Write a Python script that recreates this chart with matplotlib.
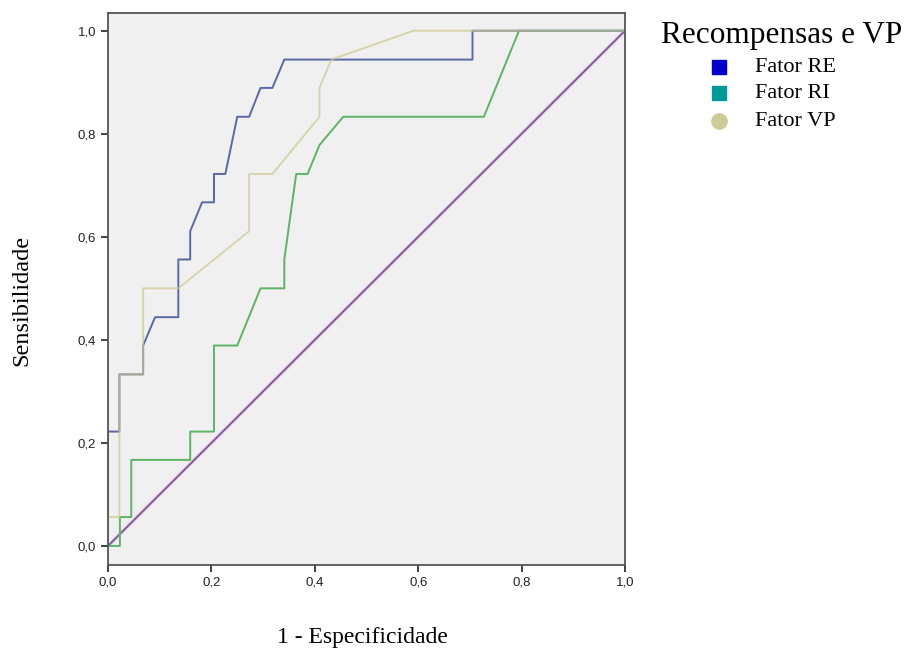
from matplotlib import pyplot as plt
from matplotlib.ticker import FuncFormatter

# ROC curves (1 - especificidade, sensibilidade)
re_x = [0, 0, 0.022, 0.022, 0.068, 0.068, 0.091, 0.136, 0.136, 0.159, 0.159, 0.182, 0.205, 0.205,
        0.227, 0.25, 0.273, 0.295, 0.318, 0.341, 0.705, 0.705, 1.0]
re_y = [0, 0.222, 0.222, 0.333, 0.333, 0.389, 0.444, 0.444, 0.556, 0.556, 0.611, 0.667, 0.667, 0.722,
        0.722, 0.833, 0.833, 0.889, 0.889, 0.944, 0.944, 1.0, 1.0]

ri_x = [0, 0.023, 0.023, 0.045, 0.045, 0.159, 0.159, 0.205, 0.205, 0.25, 0.295, 0.341, 0.341, 0.364,
        0.386, 0.409, 0.455, 0.727, 0.795, 1.0]
ri_y = [0, 0, 0.056, 0.056, 0.167, 0.167, 0.222, 0.222, 0.389, 0.389, 0.5, 0.5, 0.556, 0.722,
        0.722, 0.778, 0.833, 0.833, 1.0, 1.0]

vp_x = [0, 0, 0.022, 0.022, 0.068, 0.068, 0.136, 0.273, 0.273, 0.318, 0.409, 0.409, 0.432, 0.591, 1.0]
vp_y = [0, 0.056, 0.056, 0.333, 0.333, 0.5, 0.5, 0.611, 0.722, 0.722, 0.833, 0.889, 0.944, 1.0, 1.0]

ref_x = [0, 1]
ref_y = [0, 1]

names = ['Fator RE', 'Fator RI', 'Fator VP']
line_colors = ['#5a68aa', '#5cb464', '#cec88c']
legend_colors = ['#0000cc', '#009999', '#cccc99']
legend_markers = ['s', 's', 'o']
ticks = [0, 0.2, 0.4, 0.6, 0.8, 1.0]

fig = plt.figure(figsize=(9.1, 6.57), dpi=100)
ax = fig.add_axes([108/910, 92/657, 517/910, 552.3/657])
ax.set_facecolor('#f0f0f0')

# reference diagonal with light halo
ax.plot(ref_x, ref_y, color='#ecd0f2', lw=3.0, solid_capstyle='butt')
ax.plot(ref_x, ref_y, color='#7a5a8c', lw=1.3)

ax.plot(ri_x, ri_y, color=line_colors[1], lw=1.4)
ax.plot(re_x, re_y, color=line_colors[0], lw=1.4)
ax.plot(vp_x, vp_y, color=line_colors[2], lw=1.4, alpha=0.7)

ax.set_xlim(0, 1)
ax.set_ylim(-0.037, 1.035)
ax.set_xticks(ticks)
ax.set_yticks(ticks)
fmt = FuncFormatter(lambda v, p: ('%.1f' % v).replace('.', ','))
ax.xaxis.set_major_formatter(fmt)
ax.yaxis.set_major_formatter(fmt)
ax.tick_params(direction='out', length=5, width=1.3, color='#333333', labelsize=9.5,
               labelcolor='#222222')
for lab in ax.get_xticklabels() + ax.get_yticklabels():
    lab.set_family('Liberation Sans')
for s in ax.spines.values():
    s.set_color('#555555')
    s.set_linewidth(1.3)

fig.text(22/910, 1 - 300/657, 'Sensibilidade', rotation=90, ha='center', va='center',
         family='Liberation Serif', fontsize=17.5)
fig.text(362/910, 1 - 638/657, '1 - Especificidade', ha='center', va='center',
         family='Liberation Serif', fontsize=17)

# legend
fig.text(782/910, 1 - 35/657, 'Recompensas e VP', ha='center', va='center',
         family='Liberation Serif', fontsize=22.5)
ys_leg = [67, 93, 121]
for name, c, m, yp in zip(names, legend_colors, legend_markers, ys_leg):
    ax.plot([719/910], [1 - yp/657], marker=m, color=c, markersize=10 if m == 's' else 11,
            transform=fig.transFigure, clip_on=False, linestyle='none')
    fig.text(755/910, 1 - yp/657, name, ha='left', va='center',
             family='Liberation Serif', fontsize=16)

fig.savefig('out.png', dpi=100)
